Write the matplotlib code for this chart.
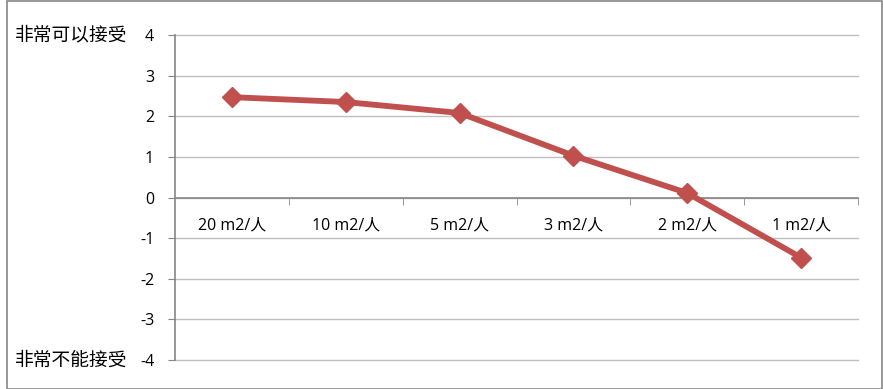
import matplotlib
matplotlib.use("Agg")
import matplotlib.pyplot as plt
import matplotlib.transforms as mtransforms
from matplotlib.patches import Rectangle

categories = ["20 m2/人", "10 m2/人", "5 m2/人", "3 m2/人", "2 m2/人", "1 m2/人"]
values = [2.47, 2.35, 2.08, 1.03, 0.11, -1.48]
y_ticks = [-4, -3, -2, -1, 0, 1, 2, 3, 4]
y_top_label = "非常可以接受"
y_bottom_label = "非常不能接受"

plt.rcParams['font.family'] = ['Open Sans', 'Noto Sans CJK SC', 'DejaVu Sans']

fig = plt.figure(figsize=(8.83, 3.89), dpi=100)
ax = fig.add_axes([175/883, 1-360/389, (858-175)/883, (360-35)/389])

x = list(range(len(categories)))
ax.plot(x, values, color="#C0504D", lw=4.2, marker="D", markersize=10,
        markerfacecolor="#C0504D", markeredgecolor="#C0504D", zorder=5,
        solid_joinstyle="round")

ax.set_xlim(-0.5, len(categories)-0.5)
ax.set_ylim(-4, 4)
ax.set_yticks(y_ticks)
ax.set_yticklabels([str(v) for v in y_ticks], fontsize=11.5, color="#000000")
ax.yaxis.grid(True, color="#BFBFBF", lw=1)
for gl in ax.yaxis.get_gridlines():
    gl.set_clip_on(False)
ax.set_axisbelow(True)

for s in ["top", "right"]:
    ax.spines[s].set_visible(False)
ax.spines["left"].set_color("#868686")
ax.spines["left"].set_linewidth(1.2)
ax.spines["bottom"].set_position(("data", 0))
ax.spines["bottom"].set_color("#868686")
ax.spines["bottom"].set_linewidth(1.2)

ax.tick_params(axis="y", direction="out", length=5, color="#868686", pad=10)
ax.set_xticks(x)
ax.set_xticklabels(categories, fontsize=11.5)
ax.tick_params(axis="x", which="major", length=0, pad=14)
ax.set_xticks([i + 0.5 for i in x], minor=True)
ax.tick_params(axis="x", which="minor", direction="out", length=5, color="#868686")

trans = mtransforms.blended_transform_factory(fig.transFigure, ax.transData)
fig.text(15/883, 4, y_top_label, transform=trans, ha="left", va="center",
         fontsize=13.5, family=['Noto Sans CJK SC', 'DejaVu Sans'])
fig.text(15/883, -4, y_bottom_label, transform=trans, ha="left", va="center",
         fontsize=13.5, family=['Noto Sans CJK SC', 'DejaVu Sans'])

fig.patches.append(Rectangle((7/883, 0.5/389), 875/883, 387.5/389, transform=fig.transFigure,
                             fill=False, edgecolor="#868686", lw=1.2))

fig.savefig("out.png", dpi=100)
